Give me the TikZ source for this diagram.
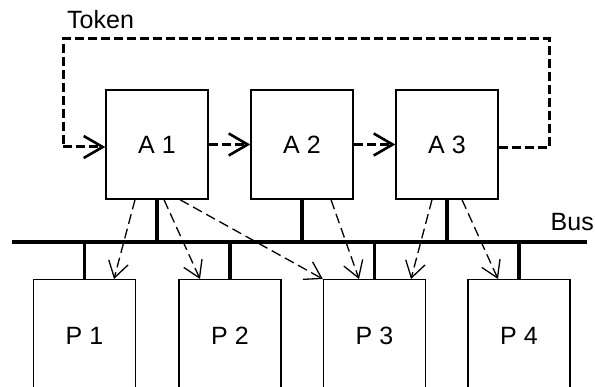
\documentclass[tikz,border=0pt]{standalone}
\usepackage{fontspec}
\setmainfont{Liberation Sans}
\usetikzlibrary{arrows.meta}
\begin{document}
\begin{tikzpicture}[x=1pt,y=-1pt,
  font=\fontsize{25}{29}\selectfont,
  unit/.style={draw,line width=1.4pt,minimum width=102pt,minimum height=109pt,inner sep=0pt},
  proc/.style={draw,line width=1.4pt,minimum width=102pt,minimum height=112pt,inner sep=0pt,anchor=north},
  bus/.style={line width=3.8pt},
  stub/.style={line width=3.4pt},
  token/.style={line width=3pt,dash pattern=on 9pt off 4pt,
    -{Straight Barb[length=19pt,width=22pt,line width=2.6pt]}},
  tokenline/.style={line width=3pt,dash pattern=on 9pt off 4pt},
  access/.style={line width=1.3pt,dash pattern=on 10pt off 5pt,
    -{Straight Barb[length=16pt,width=20pt,line width=1.3pt]}}]
\useasboundingbox (0,0) rectangle (595,387);
\clip (0,0) rectangle (595,387);

% arbiter units
\node[unit] (A1) at (157,144.5) {A 1};
\node[unit] (A2) at (302,144.5) {A 2};
\node[unit] (A3) at (447,144.5) {A 3};

% processors
\node[proc] (P1) at (84.5,279) {\raisebox{-5pt}{P 1}};
\node[proc] (P2) at (230,279) {\raisebox{-5pt}{P 2}};
\node[proc] (P3) at (374.5,279) {\raisebox{-5pt}{P 3}};
\node[proc] (P4) at (519,279) {\raisebox{-5pt}{P 4}};

% shared bus
\coordinate (busL) at (12,242);
\coordinate (busR) at (587,242);
\draw[bus] (busL) -- (busR);
\node[anchor=base east,inner sep=0pt] (buslabel) at (594,231) {Bus};

\foreach \n in {A1,A2,A3}{
  \draw[stub] (\n.south) -- (\n.south |- busL);
}
\foreach \n in {P1,P2,P3,P4}{
  \draw[stub] (\n.north) -- (\n.north |- busL);
}

% token ring
\coordinate (tr) at (549,39);
\coordinate (tl) at (63,39);
\node[anchor=base west,inner sep=0pt] (tokenlabel) at (67,29) {Token};
\draw[tokenline] ([yshift=-3.5pt]A3.east) -- ([yshift=-3.5pt]A3.east -| tr) -- (tr) -- (tl)
  -- ([yshift=-2.5pt]A1.west -| tl);
\draw[token] ([yshift=-2.5pt]A1.west -| tl) -- ([yshift=-2.5pt]A1.west);
\draw[token] (A1.east) -- (A2.west);
\draw[token] (A2.east) -- (A3.west);

% bus accesses
\draw[access] ([xshift=-22pt]A1.south) -- ([xshift=29.5pt]P1.north);
\draw[access] ([xshift=7pt]A1.south) -- ([xshift=-30pt]P2.north);
\draw[access] ([xshift=23pt]A1.south) -- (P3.north west);
\draw[access] ([xshift=29pt]A2.south) -- ([xshift=-15.5pt]P3.north);
\draw[access] ([xshift=-15pt]A3.south) -- ([xshift=36.5pt]P3.north);
\draw[access] ([xshift=15pt]A3.south) -- ([xshift=-21pt]P4.north);
\end{tikzpicture}
\end{document}
